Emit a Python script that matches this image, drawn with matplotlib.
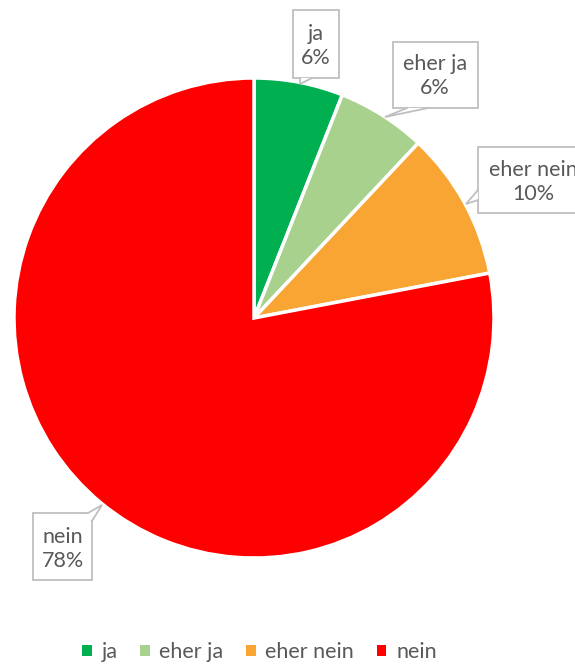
import matplotlib.pyplot as plt
from matplotlib.patches import Patch, Rectangle, Polygon

# data
labels = ["ja", "eher ja", "eher nein", "nein"]
shares = [6, 6, 10, 78]
colors = ["#00B050", "#A9D18E", "#F9A533", "#FF0000"]

# callout boxes (pixel coords, y from top): box, pointer base points, pointer tip, text centre
boxes = [(293, 10, 339, 78), (393, 42, 478, 108), (478, 147, 600, 213), (33, 513, 92, 580)]
bases = [((300, 78), (312, 78)), ((407, 108), (428, 108)),
         ((478, 190), (478, 200)), ((88, 513), (92, 521))]
tips = [(300, 84), (385, 117), (466, 204), (102, 505)]
text_pos = [(316, 46), (435, 76), (533, 182), (63, 549)]

W, H = 575, 664
fig = plt.figure(figsize=(W / 100, H / 100), dpi=100)
ax = fig.add_axes([0, 0, 1, 1])

ax.pie(shares, colors=colors, startangle=90, counterclock=False,
       center=(254, H - 318), radius=240,
       wedgeprops=dict(edgecolor="white", linewidth=2.5))
ax.set_xlim(0, W)
ax.set_ylim(0, H)
ax.set_aspect("equal")
ax.axis("off")

font = "Lato"
grey = "#BFBFBF"
for lab, val, (x0, y0, x1, y1), (b1, b2), (tx, ty), (cx, cy) in zip(
        labels, shares, boxes, bases, tips, text_pos):
    ax.add_patch(Rectangle((x0, H - y1), x1 - x0, y1 - y0, fc="white", ec=grey, lw=1.3, zorder=3))
    ax.add_patch(Polygon([(b1[0], H - b1[1]), (tx, H - ty), (b2[0], H - b2[1])],
                         closed=True, fc="white", ec="none", zorder=4))
    ax.plot([b1[0], tx, b2[0]], [H - b1[1], H - ty, H - b2[1]], color=grey, lw=1.3,
            zorder=5, solid_joinstyle="miter")
    ax.text(cx, H - cy, f"{lab}\n{val}%", ha="center", va="center", fontsize=15.5,
            color="#595959", family=font, linespacing=1.3, zorder=6)

handles = [Patch(facecolor=c, edgecolor="none") for c in colors]
leg = fig.legend(handles, labels, loc="center", bbox_to_anchor=(0.451, 1 - 652 / H),
                 ncol=4, frameon=False, handlelength=0.45, handleheight=0.45,
                 handletextpad=0.45, columnspacing=1.05,
                 prop=dict(family=font, size=15.5))
for t in leg.get_texts():
    t.set_color("#595959")

fig.savefig("out.png", dpi=100)
